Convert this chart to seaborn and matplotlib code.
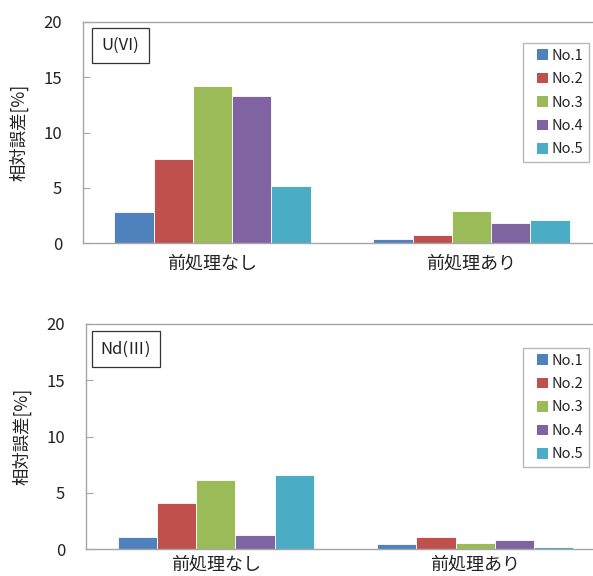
import matplotlib
matplotlib.use("Agg")
import matplotlib.pyplot as plt
import seaborn as sns
import pandas as pd
from matplotlib.patches import Patch, Rectangle
from matplotlib.legend_handler import HandlerPatch

sns.set_theme(style="white")
plt.rcParams["font.family"] = ["Noto Sans CJK JP", "DejaVu Sans"]

conditions = ["前処理なし", "前処理あり"]
samples = ["No.1", "No.2", "No.3", "No.4", "No.5"]
colors = ["#4F81BD", "#C0504D", "#9BBB59", "#8064A2", "#4BACC6"]

u_vi = {
    "前処理なし": [2.8, 7.6, 14.2, 13.3, 5.2],
    "前処理あり": [0.35, 0.7, 2.9, 1.8, 2.1],
}
nd_iii = {
    "前処理なし": [1.05, 4.1, 6.1, 1.25, 6.6],
    "前処理あり": [0.45, 1.1, 0.55, 0.8, 0.18],
}
panel_titles = ["U(VI)", "Nd(Ⅲ)"]
yticks = [0, 5, 10, 15, 20]
ylabel = "相対誤差[%]"


def to_frame(values):
    rows = []
    for cond in conditions:
        for s, v in zip(samples, values[cond]):
            rows.append({"cond": cond, "sample": s, "value": v})
    return pd.DataFrame(rows)


def square_right(legend, orig_handle, xdescent, ydescent, width, height, fontsize):
    # small square swatch sitting at the right end of the handle box
    sq = 0.72 * fontsize
    return Rectangle((-xdescent + width - sq, -ydescent + (height - sq) / 2), sq, sq)


W, H = 593, 576
fig = plt.figure(figsize=(W / 100, H / 100), dpi=100)

# axes rectangles in pixel units: left, top, right, bottom
boxes = [(83, 22, 601, 243), (86, 324, 605, 549)]
legend_tops = [43, 348]
title_centers = [(120.5, 45.5), (126, 349)]
xlabel_pads = [8, 5]
grey = "#a6a6a6"
ink = "#222222"

for data, title, (l, t, r, b), lt, (tx, ty), xpad in zip(
        [u_vi, nd_iii], panel_titles, boxes, legend_tops, title_centers, xlabel_pads):
    ax = fig.add_axes([l / W, 1 - b / H, (r - l) / W, (b - t) / H])
    df = to_frame(data)
    sns.barplot(data=df, x="cond", y="value", hue="sample", order=conditions,
                hue_order=samples, palette=colors, width=0.757, ax=ax,
                edgecolor="white", linewidth=0.6, saturation=1, legend=False)
    ax.set_ylim(0, 20)
    ax.set_xlim(-0.5, 1.5)
    ax.set_yticks(yticks)
    ax.set_yticklabels([str(v) for v in yticks], fontsize=12, color=ink)
    ax.tick_params(axis="y", direction="in", length=5, color=grey, width=0.8, pad=15, left=True)
    ax.tick_params(axis="x", length=0, labelsize=13, labelcolor=ink, pad=xpad)
    ax.set_xlabel("")
    ax.set_ylabel(ylabel, fontsize=12.5, color=ink, labelpad=11)
    for side in ["left", "top", "bottom", "right"]:
        ax.spines[side].set_color(grey)
        ax.spines[side].set_linewidth(1.0)

    # panel title box
    fig.text(tx / W, 1 - ty / H, title, ha="center", va="center",
             fontsize=12, color=ink,
             bbox=dict(boxstyle="square,pad=0.55", fc="white", ec="#333333", lw=0.9))

    handles = [Patch(facecolor=c, edgecolor="none", label=s) for c, s in zip(colors, samples)]
    leg = fig.legend(handles=handles, loc="upper left", bbox_to_anchor=(523 / W, 1 - lt / H),
                     frameon=True, fancybox=False, fontsize=10.5, handlelength=1.3,
                     handleheight=0.7, handletextpad=0.3, labelspacing=0.65,
                     borderpad=0.38, borderaxespad=0,
                     handler_map={Patch: HandlerPatch(patch_func=square_right)})
    leg.get_frame().set_edgecolor(grey)
    leg.get_frame().set_linewidth(1.0)
    for txt in leg.get_texts():
        txt.set_color(ink)

fig.savefig("out.png", dpi=100)
